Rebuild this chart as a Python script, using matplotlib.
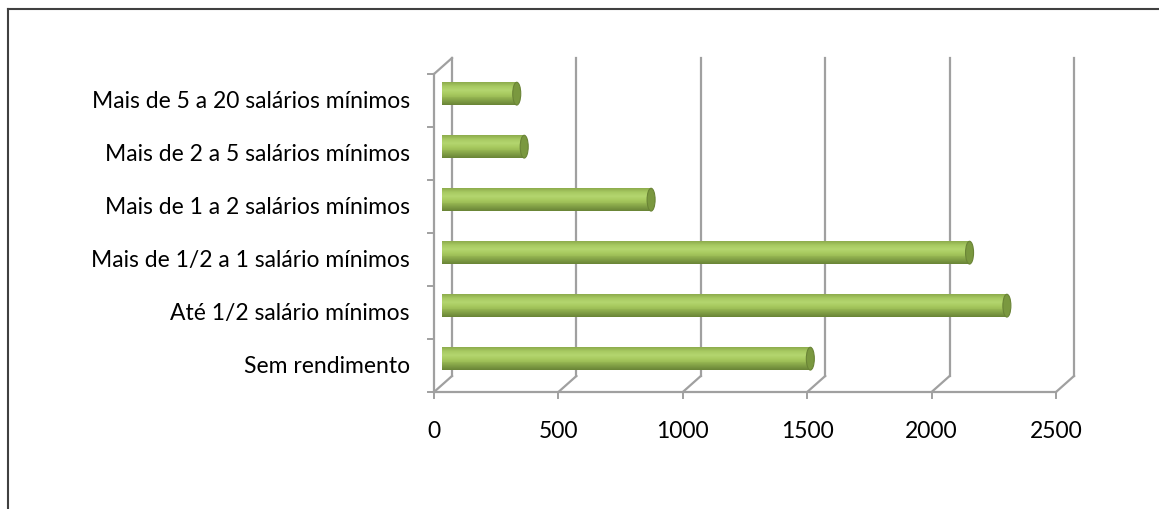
import numpy as np
import matplotlib
matplotlib.use("Agg")
import matplotlib.pyplot as plt
import matplotlib.transforms as mtransforms
from matplotlib.patches import Ellipse
from matplotlib.colors import LinearSegmentedColormap

# ---- data ----
categories = ["Sem rendimento",
              "Até 1/2 salário mínimos",
              "Mais de 1/2 a 1 salário mínimos",
              "Mais de 1 a 2 salários mínimos",
              "Mais de 2 a 5 salários mínimos",
              "Mais de 5 a 20 salários mínimos"]
values = [1480, 2270, 2120, 840, 330, 300]
x_ticks = [0, 500, 1000, 1500, 2000, 2500]

W, H = 1159, 510
fig = plt.figure(figsize=(W / 100, H / 100), dpi=100)
plt.rcParams['font.family'] = ['Lato', 'DejaVu Sans']

# chart border (only top/left visible)
fig.add_artist(plt.Line2D([8 / W, 1.0], [1 - 10 / H, 1 - 10 / H], color="#404040", lw=1.5))
fig.add_artist(plt.Line2D([8 / W, 8 / W], [1 - 10 / H, 0.0], color="#404040", lw=1.5))

# front plane of the plot area
x0, x1 = 434, 1056
y_top, y_bot = 75, 393
ax = fig.add_axes([x0 / W, 1 - y_bot / H, (x1 - x0) / W, (y_bot - y_top) / H])
ax.set_xlim(0, 2500)
ax.set_ylim(-0.5, 5.5)
ax.axis("off")

depth = 18  # px
back = mtransforms.offset_copy(ax.transData, fig, x=depth, y=depth - 2, units="dots")
mid = mtransforms.offset_copy(ax.transData, fig, x=depth * 0.45, y=depth * 0.38, units="dots")

grid_c = "#a0a0a0"
# back wall gridlines
for t in x_ticks:
    ax.plot([t, t], [-0.5, 5.5], color=grid_c, lw=1.6, transform=back, clip_on=False, zorder=1)

# floor diagonals
for t in x_ticks:
    ax.plot([t, t + depth / 0.2488], [-0.5, -0.5 + (depth - 2) / 53.0], color=grid_c, lw=1.6,
            clip_on=False, zorder=1)
# left wall top diagonal
ax.plot([0, depth / 0.2488], [5.5, 5.5 + (depth - 2) / 53.0], color=grid_c, lw=1.6,
        clip_on=False, zorder=1)

# front axes
ax.plot([0, 0], [-0.5, 5.5], color=grid_c, lw=1.6, clip_on=False, zorder=1)
ax.plot([0, 2500], [-0.5, -0.5], color=grid_c, lw=1.6, clip_on=False, zorder=1)

# ticks
tick_px = 6
for k in np.arange(-0.5, 6.0, 1.0):
    ax.plot([-tick_px / 0.2488, 0], [k, k], color=grid_c, lw=1.4, clip_on=False, zorder=1)
for t in x_ticks:
    ax.plot([t, t], [-0.5, -0.5 - tick_px / 53.0], color=grid_c, lw=1.4, clip_on=False, zorder=1)

# tick labels
for i, c in enumerate(categories):
    ax.text(-24 / 0.2488, i, c, ha="right", va="center", fontsize=16.5, color="#000000")
for t in x_ticks:
    ax.text(t, -0.5 - 39 / 53.0, str(t), ha="center", va="center", fontsize=16.5, color="#000000")

# cylinder bars
cmap = LinearSegmentedColormap.from_list(
    "cyl", ["#8fae4e", "#a8ca62", "#b3d56e", "#a7c95f", "#97b852", "#809e45", "#6b8637"])
bar_h = 0.43
n_band = 24
edges = np.linspace(0.5, -0.5, n_band + 1)
for i, v in enumerate(values):
    for b in range(n_band):
        y_lo = i + edges[b + 1] * bar_h
        ax.barh(y_lo, v, height=bar_h / n_band, left=0, align="edge",
                color=cmap(b / (n_band - 1)), lw=0, transform=mid, zorder=3)
    cap_w = 8 / 0.2488
    ax.add_patch(Ellipse((v, i), cap_w, bar_h, facecolor="#7a983f", edgecolor="#6a8436", lw=0.8,
                         transform=mid, zorder=4))

fig.savefig("out.png", dpi=100)
